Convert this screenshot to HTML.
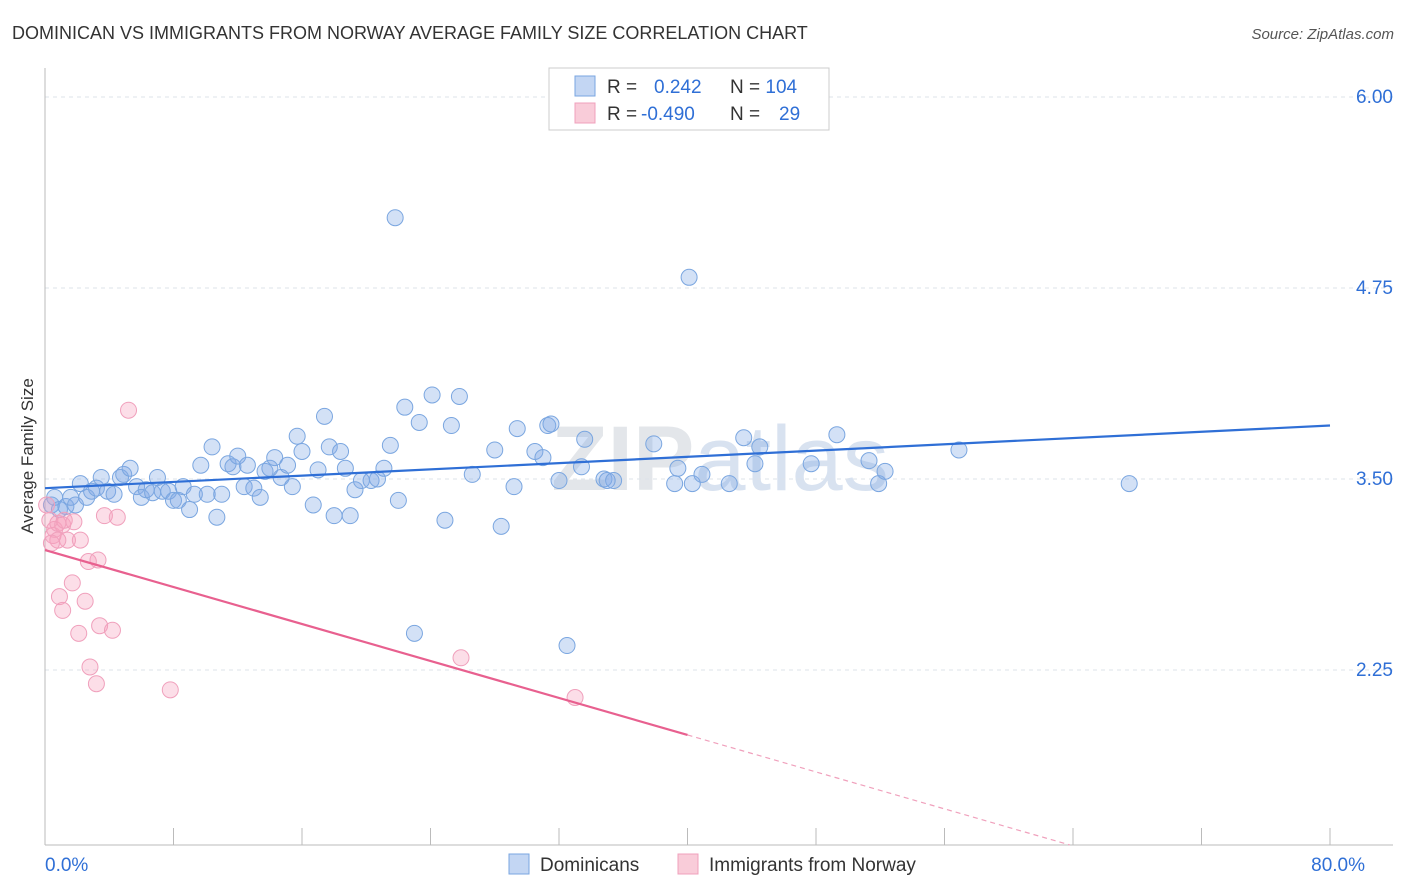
<!DOCTYPE html>
<html><head><meta charset="utf-8"><style>
body{margin:0;background:#fff;font-family:"Liberation Sans",sans-serif;}
svg{display:block}
</style></head><body>
<svg id="chart" width="1406" height="892">
<text x="12" y="39" font-size="18" fill="#333">DOMINICAN VS IMMIGRANTS FROM NORWAY AVERAGE FAMILY SIZE CORRELATION CHART</text>
<text x="1394" y="39" font-size="15" fill="#555" font-style="italic" text-anchor="end">Source: ZipAtlas.com</text>
<text x="720" y="490" font-size="92" fill="#e3e6ea" text-anchor="middle" font-weight="bold">ZIP<tspan font-weight="normal" fill="#d8e2f0">atlas</tspan></text>
<g id="grid"></g><g id="axes"></g><g id="marks"></g><g id="lines"></g>
<text transform="translate(33,456) rotate(-90)" font-size="17" fill="#333" text-anchor="middle">Average Family Size</text>
<g>
<rect x="549" y="68" width="280" height="62" fill="#fff" stroke="#ccc"/>
<rect x="575" y="76" width="20" height="20" fill="#c3d6f3" stroke="#7aa6e0"/>
<text x="607" y="93" font-size="19" fill="#333">R = <tspan fill="#2f6fd6" x="654">0.242</tspan><tspan x="730" fill="#333">N = </tspan><tspan fill="#2f6fd6">104</tspan></text>
<rect x="575" y="103" width="20" height="20" fill="#f9ccd9" stroke="#f0a0bc"/>
<text x="607" y="120" font-size="19" fill="#333">R = <tspan fill="#2f6fd6" x="641">-0.490</tspan><tspan x="730" fill="#333">N = </tspan><tspan fill="#2f6fd6" x="779">29</tspan></text>
</g>
<g>
<rect x="509" y="854" width="20" height="20" fill="#c3d6f3" stroke="#7aa6e0"/>
<text x="540" y="871" font-size="19" fill="#333">Dominicans</text>
<rect x="678" y="854" width="20" height="20" fill="#f9ccd9" stroke="#f0a0bc"/>
<text x="709" y="871" font-size="19" fill="#333">Immigrants from Norway</text>
</g>
</svg>
<script>
const yTicks=[2.25,3.50,4.75,6.00];
const xTickPcts=[0,8,16,24,32,40,48,56,64,72,80];
const bluePct=[0.4,0.6,0.9,1.3,1.6,1.9,2.2,2.6,2.9,3.2,3.5,3.9,4.3,4.7,4.9,5.3,5.7,6.0,6.3,6.7,7.0,7.3,7.7,8.0,8.3,8.6,9.0,9.3,9.7,10.1,10.4,10.7,11.0,11.4,11.7,12.0,12.4,12.6,13.0,13.4,13.7,14.0,14.3,14.7,15.1,15.4,15.7,16.0,16.7,17.0,17.4,17.7,18.0,18.4,18.7,19.0,19.3,19.7,20.3,20.7,21.1,21.5,21.8,22.0,22.4,23.3,24.1,24.9,25.3,25.8,26.6,28.0,28.4,29.2,29.4,30.5,31.0,31.3,31.5,32.0,33.4,33.6,34.8,35.0,35.4,37.9,39.2,39.4,40.1,40.3,40.9,42.6,43.5,44.2,44.5,47.7,49.3,51.3,51.9,52.3,56.9,67.5,23.0,32.5];
const blueVal=[3.33,3.38,3.30,3.32,3.38,3.33,3.47,3.38,3.42,3.44,3.51,3.42,3.40,3.51,3.53,3.57,3.45,3.38,3.43,3.41,3.51,3.42,3.42,3.36,3.36,3.45,3.30,3.40,3.59,3.40,3.71,3.25,3.40,3.60,3.58,3.65,3.45,3.59,3.44,3.38,3.55,3.57,3.64,3.51,3.59,3.45,3.78,3.68,3.33,3.56,3.91,3.71,3.26,3.68,3.57,3.26,3.43,3.49,3.49,3.50,3.57,3.72,5.21,3.36,3.97,3.87,4.05,3.23,3.85,4.04,3.53,3.69,3.19,3.45,3.83,3.68,3.64,3.85,3.86,3.49,3.58,3.76,3.50,3.49,3.49,3.73,3.47,3.57,4.82,3.47,3.53,3.47,3.77,3.60,3.71,3.60,3.79,3.62,3.47,3.55,3.69,3.47,2.49,2.41];
const pinkPct=[0.1,0.3,0.5,0.6,0.8,1.1,1.2,1.4,1.7,1.8,0.9,1.1,2.1,2.2,2.5,2.7,2.8,3.2,3.3,3.4,3.7,4.2,4.5,5.2,7.8,25.9,33.0,0.8,0.4];
const pinkVal=[3.33,3.23,3.13,3.17,3.21,3.20,3.23,3.10,2.82,3.22,2.73,2.64,2.49,3.10,2.70,2.96,2.27,2.16,2.97,2.54,3.26,2.51,3.25,3.95,2.12,2.33,2.07,3.10,3.08];
const blueTrend=[3.44,3.85]; // value at 0% and 80%
const pinkTrend=[3.035,-0.03025]; // intercept, slope per %
const NS="http://www.w3.org/2000/svg";
const X=p=>45+p*(1330-45)/80;
const Y=v=>479-(v-3.5)*152.8;
function mk(t,a,parent){const e=document.createElementNS(NS,t);for(const k in a)e.setAttribute(k,a[k]);document.getElementById(parent).appendChild(e);return e;}
yTicks.forEach(v=>{
 const g=mk('line',{x1:45,x2:1393,y1:Y(v),y2:Y(v),stroke:'#dde3ea','stroke-dasharray':'4,4'},'grid');
 
 
 const t=mk('text',{x:1393,y:Y(v)+6,'font-size':19,fill:'#2f6fd6','text-anchor':'end'},'grid');
 t.textContent=v.toFixed(2);
 
 
});
const ax=mk('line',{x1:45,x2:1393,y1:845,y2:845,stroke:'#bbb'},'axes');


const ay=mk('line',{x1:45,x2:45,y1:68,y2:845,stroke:'#bbb'},'axes');


xTickPcts.forEach(p=>{
 const l=mk('line',{x1:X(p),x2:X(p),y1:828,y2:845,stroke:'#bbb'},'axes');
 
 
});
[[0,'start'],[80,'end']].forEach(([p,a])=>{
 const t=mk('text',{x:X(p)+(a==='end'?35:0),y:871,'font-size':19,fill:'#2f6fd6','text-anchor':a},'axes');
 t.textContent=p.toFixed(1)+'%';
 
 
});
bluePct.forEach((p,i)=>{
 const c=mk('circle',{cx:X(p),cy:Y(blueVal[i]),r:8,fill:'rgba(130,170,230,0.35)',stroke:'#7aa6e0','stroke-width':1},'marks');
 
 
});
pinkPct.forEach((p,i)=>{
 const c=mk('circle',{cx:X(p),cy:Y(pinkVal[i]),r:8,fill:'rgba(245,160,190,0.35)',stroke:'#f0a0bc','stroke-width':1},'marks');
 
 
});
const bl=mk('line',{x1:X(0),y1:Y(blueTrend[0]),x2:X(80),y2:Y(blueTrend[1]),stroke:'#2f6fd6','stroke-width':2.2},'lines');


const pv=p=>pinkTrend[0]+pinkTrend[1]*p;
const pl=mk('line',{x1:X(0),y1:Y(pv(0)),x2:X(40),y2:Y(pv(40)),stroke:'#e8608f','stroke-width':2.2},'lines');


const endP=(pinkTrend[0]-1.105)/-pinkTrend[1];
const pd=mk('line',{x1:X(40),y1:Y(pv(40)),x2:X(endP),y2:Y(pv(endP)),stroke:'#f0a0bc','stroke-width':1.2,'stroke-dasharray':'5,4'},'lines');


</script>
</body></html>
